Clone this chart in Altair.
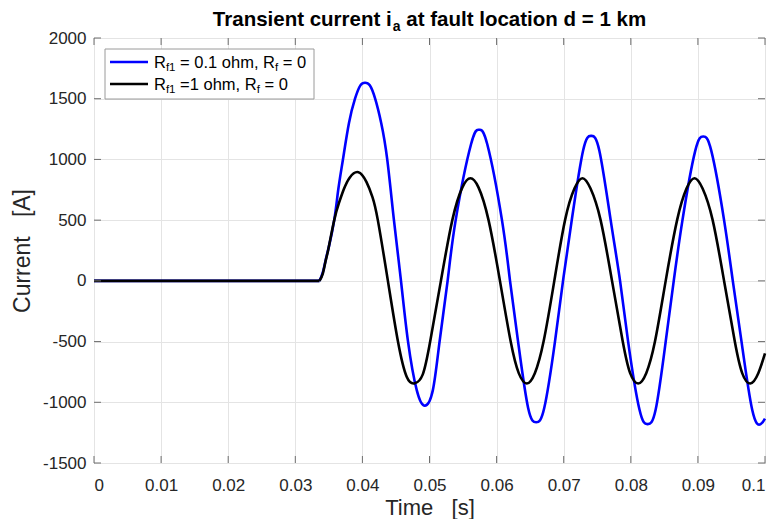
import altair as alt
import pandas as pd

# ---- data ----
blue_t = [0, 0.0336, 0.0341, 0.0346, 0.0350, 0.0358, 0.0364, 0.0371, 0.0380, 0.0389,
          0.0397, 0.0404, 0.0411, 0.0419, 0.0428, 0.0437, 0.0447, 0.04575, 0.0468, 0.0481,
          0.0493, 0.0505, 0.0515, 0.0527, 0.0539, 0.0562, 0.0574, 0.0586, 0.0608, 0.0620,
          0.0632, 0.0647, 0.0659, 0.0671, 0.0687, 0.0699, 0.0712, 0.0729, 0.0741, 0.0753,
          0.0770, 0.0784, 0.0796, 0.0813, 0.0825, 0.0837, 0.0852, 0.0864, 0.0877, 0.0896,
          0.0908, 0.0920, 0.0939, 0.0952, 0.0965, 0.0981, 0.0993, 0.1]
blue_i = [0, 0, 70, 190, 280, 500, 750, 1000, 1300, 1500,
          1610, 1632, 1610, 1500, 1300, 1000, 500, 0, -500, -900,
          -1028, -900, -500, 0, 500, 1127, 1244, 1127, 500, 0,
          -500, -1047, -1165, -1047, -500, 0, 500, 1076, 1194, 1076,
          500, 0, -500, -1062, -1180, -1062, -500, 0, 500, 1070,
          1189, 1070, 500, 0, -500, -1064, -1182, -1135]

black_t = [0, 0.0336, 0.0341, 0.0345, 0.0349, 0.0358, 0.0365, 0.0372, 0.0381, 0.0394,
           0.0406, 0.0415, 0.0423, 0.0438, 0.0453, 0.0466, 0.0478, 0.0490, 0.0501, 0.0517,
           0.0534, 0.0549, 0.0561, 0.0573, 0.0588, 0.0605, 0.0621, 0.0633, 0.0645, 0.0657,
           0.0670, 0.0686, 0.0702, 0.0716, 0.0728, 0.0740, 0.0755, 0.0772, 0.0788, 0.0799,
           0.0811, 0.0823, 0.0836, 0.0852, 0.0869, 0.0883, 0.0895, 0.0907, 0.0922, 0.0939,
           0.0955, 0.0966, 0.0978, 0.0990, 0.1]
black_i = [0, 0, 60, 160, 255, 500, 640, 750, 850, 895,
           815, 690, 500, 0, -500, -790, -844, -770, -500, 0,
           500, 770, 845, 770, 500, 0, -500, -760, -845, -760,
           -500, 0, 500, 760, 845, 760, 500, 0, -500, -760,
           -845, -760, -500, 0, 500, 760, 845, 760, 500, 0,
           -500, -760, -845, -760, -597]

fault_start = 0.0336

x_ticks = [0, 0.01, 0.02, 0.03, 0.04, 0.05, 0.06, 0.07, 0.08, 0.09, 0.1]
y_ticks = [-1500, -1000, -500, 0, 500, 1000, 1500, 2000]

# title / legend text as (text, is_subscript) runs
title_runs = [("Transient current i", False), ("a", True), (" at fault location d = 1 km", False)]
x_title = "Time\u00a0\u00a0\u00a0[s]"
y_title = "Current\u00a0\u00a0\u00a0[A]"
legend_blue = [("R", False), ("f1", True), (" = 0.1 ohm, R", False), ("f", True), (" = 0", False)]
legend_black = [("R", False), ("f1", True), (" =1 ohm, R", False), ("f", True), (" = 0", False)]

# ---- layout / style ----
W, H = 671, 425
FONT = "Liberation Sans"
AXC = "#6e6e6e"
TXT = "#262626"
F_MAIN, F_SUB = 16.5, 11.5
T_MAIN, T_SUB = 20.5, 14
TICK = 7

ARIAL = {' ': 278, '=': 584, '.': 278, ',': 278, 'R': 722, 'f': 278, 'o': 556,
         'h': 556, 'm': 833}
ARIAL_B = {' ': 278, '=': 584, 'T': 611, 'r': 389, 'a': 556, 'n': 611, 's': 556,
           'i': 278, 'e': 556, 't': 333, 'c': 556, 'u': 611, 'f': 333, 'l': 278,
           'o': 611, 'd': 611, '1': 556, 'k': 556, 'm': 889}


def text_width(s, size, table):
    return sum(table.get(c, 556) for c in s) * size / 1000.0


one = pd.DataFrame({"k": [0]})


def runs_layers(runs, x0, base_y, main, sub, table, weight, color):
    layers = []
    px = x0
    for s, is_sub in runs:
        size = sub if is_sub else main
        lead = len(s) - len(s.lstrip(" "))
        px += text_width(" " * lead, size, table)
        body = s.lstrip(" ")
        layers.append(
            alt.Chart(one).mark_text(align="left", baseline="alphabetic", font=FONT,
                                     fontSize=size, fontWeight=weight, color=color).encode(
                x=alt.value(px), y=alt.value(base_y + (0.22 * main if is_sub else 0)),
                text=alt.value(body.replace(" ", "\u00a0")))
        )
        px += text_width(body, size, table)
    return layers


df_blue = pd.DataFrame({"t": blue_t, "i": blue_i})
df_black = pd.DataFrame({"t": black_t, "i": black_i})
df_xt = pd.DataFrame({"t": x_ticks})
df_yt = pd.DataFrame({"i": y_ticks})

xs = alt.Scale(domain=[0, 0.1], nice=False, zero=False)
ys = alt.Scale(domain=[-1500, 2000], nice=False, zero=False)
xaxis = alt.Axis(values=x_ticks, labelExpr="datum.value + ''", title=x_title, grid=True,
                 ticks=False, domain=False, labelPadding=14, titleBaseline="alphabetic",
                 titleY=51, titleFontSize=22)
yaxis = alt.Axis(values=y_ticks, labelExpr="datum.value + ''", title=y_title, grid=True,
                 ticks=False, domain=False, labelPadding=8, titlePadding=8)

X = alt.X("t:Q", scale=xs, axis=xaxis)
Y = alt.Y("i:Q", scale=ys, axis=yaxis)


def curve(df, color):
    flat = df[df["t"] <= fault_start]
    wave = df[df["t"] >= fault_start]
    a = alt.Chart(flat).mark_line(color=color, strokeWidth=2.6).encode(x=X, y=Y)
    b = alt.Chart(wave).mark_line(color=color, strokeWidth=2.6,
                                  interpolate="natural").encode(x=X, y=Y)
    return [a, b]


xt_bot = alt.Chart(df_xt).mark_rule(color=AXC, strokeWidth=1).encode(x=X, y=alt.value(H), y2=alt.value(H - TICK))
xt_top = alt.Chart(df_xt).mark_rule(color=AXC, strokeWidth=1).encode(x=X, y=alt.value(0), y2=alt.value(TICK))
yt_left = alt.Chart(df_yt).mark_rule(color=AXC, strokeWidth=1).encode(y=Y, x=alt.value(0), x2=alt.value(TICK))
yt_right = alt.Chart(df_yt).mark_rule(color=AXC, strokeWidth=1).encode(y=Y, x=alt.value(W), x2=alt.value(W - TICK))

# ---- manual legend (needed for subscripts) ----
legend_layers = [
    alt.Chart(one).mark_rect(fill="white", stroke="#9a9a9a", strokeWidth=1).encode(
        x=alt.value(11), x2=alt.value(220), y=alt.value(11), y2=alt.value(61)),
    alt.Chart(one).mark_rule(color="#0000ff", strokeWidth=2.6).encode(
        x=alt.value(16), x2=alt.value(54), y=alt.value(24)),
    alt.Chart(one).mark_rule(color="#000000", strokeWidth=2.6).encode(
        x=alt.value(16), x2=alt.value(54), y=alt.value(46)),
]
legend_layers += runs_layers(legend_blue, 60.0, 29.5, F_MAIN, F_SUB, ARIAL, "normal", "#000000")
legend_layers += runs_layers(legend_black, 60.0, 51.5, F_MAIN, F_SUB, ARIAL, "normal", "#000000")

# ---- title (bold, with subscript) ----
title_w = sum(text_width(s, T_SUB if sub else T_MAIN, ARIAL_B) for s, sub in title_runs)
title_layers = runs_layers(title_runs, W / 2.0 - title_w / 2.0, -12, T_MAIN, T_SUB,
                           ARIAL_B, "bold", "#000000")

chart = alt.layer(*curve(df_blue, "#0000ff"), *curve(df_black, "#000000"),
                  xt_bot, xt_top, yt_left, yt_right,
                  *legend_layers, *title_layers).properties(
    width=W, height=H,
    padding={"left": 94, "top": 38, "right": 11, "bottom": 56},
    autosize=alt.AutoSizeParams(type="none"),
).configure_view(
    stroke=AXC, strokeWidth=1
).configure_axis(
    labelFont=FONT, titleFont=FONT, labelFontSize=17, titleFontSize=23,
    labelColor=TXT, titleColor=TXT, titleFontWeight="normal",
    gridColor="#e4e4e4", gridWidth=1,
)

chart.save("out.html", embed_options={"renderer": "svg", "actions": False})
